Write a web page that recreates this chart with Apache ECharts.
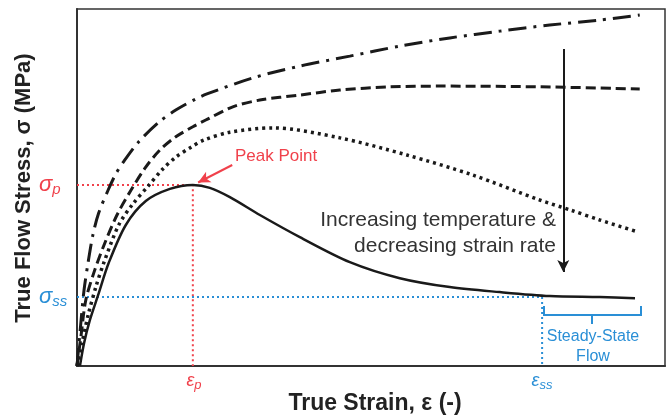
<!DOCTYPE html>
<html>
<head>
<meta charset="utf-8">
<script src="https://cdn.jsdelivr.net/npm/echarts@6/dist/echarts.min.js"></script>
<style>
html, body { margin: 0; padding: 0; background: #fff; }
#main { width: 667px; height: 418px; }
</style>
</head>
<body>
<div id="main"></div>
<script>
// curves, x = strain (0-100), y = stress (0-100), arbitrary units
var solidCurve = [[0.5,0],[1.2,6.4],[2.2,12.9],[3.6,19.9],[5.4,28.9],[8.3,39.5],[11.7,46.2],[15.8,49.6],[19.7,50.7],[22.6,49.9],[26.0,47.3],[31.1,42.3],[37.9,36.1],[46.4,29.1],[54.9,24.6],[63.4,22.1],[71.9,20.7],[80.4,19.6],[88.9,19.3],[94.9,19.0]];
var dottedCurve = [[0,0],[0.85,6.4],[1.9,14.3],[3.2,22.1],[4.6,29.1],[7.1,39.5],[9.5,45.4],[12.1,50.4],[14.6,55.2],[16.8,58.5],[19.4,61.3],[21.6,63.3],[26.0,65.5],[33.3,66.7],[44.7,63.9],[56.1,59.1],[67.3,53.5],[78.7,46.5],[83.9,43.7],[88.9,40.9],[94.9,37.8]];
var dashedCurve = [[0,0],[0.7,8.7],[1.5,18.5],[2.9,26.3],[4.6,33.9],[6.8,42.3],[9.2,49.3],[11.6,55.5],[14.1,60.5],[16.8,64.2],[19.7,67.0],[21.9,68.9],[26.5,72.6],[31.1,74.5],[37.9,75.9],[44.7,77.3],[53.2,78.2],[61.7,78.4],[78.7,78.2],[95.7,77.6]];
var dashDotCurve = [[0,0],[0.7,12.9],[1.2,21.3],[1.9,29.1],[2.7,36.7],[3.7,42.9],[5.3,49.3],[6.6,53.8],[8.0,57.4],[10.5,62.8],[14.0,68.4],[16.8,71.7],[20.2,74.8],[22.1,76.2],[29.9,80.7],[37.9,84.0],[46.4,86.8],[54.9,89.6],[63.4,91.9],[71.9,93.8],[80.4,95.5],[88.9,96.9],[95.7,98.3]];

var peakPoint = [19.7, 50.7];
var steadyPoint = [79.1, 19.3];

var red = '#f0414b';
var blue = '#2a8fd6';

var chart = echarts.init(document.getElementById('main'));

function curve(data, dash, width) {
    return {
        type: 'line',
        data: data,
        smooth: 0.3,
        symbol: 'none',
        silent: true,
        lineStyle: { color: '#1a1a1a', width: width, type: dash, cap: 'butt' }
    };
}

var option = {
    animation: false,
    grid: { left: 77, top: 9, right: 2, bottom: 52, show: true, borderColor: '#333', borderWidth: 1.5 },
    xAxis: {
        type: 'value', min: 0, max: 100,
        axisLine: { show: true, lineStyle: { color: '#333', width: 2 } },
        axisTick: { show: false }, axisLabel: { show: false }, splitLine: { show: false }
    },
    yAxis: {
        type: 'value', min: 0, max: 100,
        axisLine: { show: true, lineStyle: { color: '#333', width: 2 } },
        axisTick: { show: false }, axisLabel: { show: false }, splitLine: { show: false }
    },
    series: [
        {
            type: 'line', symbol: 'none', silent: true,
            data: [[0, peakPoint[1]], peakPoint, [peakPoint[0], 0]],
            lineStyle: { color: red, width: 2, type: [2, 3] }
        },
        {
            type: 'line', symbol: 'none', silent: true,
            data: [[0, steadyPoint[1]], steadyPoint, [steadyPoint[0], 0]],
            lineStyle: { color: blue, width: 2, type: [2, 3] }
        },
        curve(dashDotCurve, [18, 7, 3, 7], 3),
        curve(dashedCurve, [10, 5], 3),
        curve(dottedCurve, [3, 4], 3.5),
        curve(solidCurve, 'solid', 2.5),
        {
            type: 'line', data: [], symbol: 'none', silent: true,
            markLine: {
                silent: true, symbol: ['none', 'arrow'], symbolSize: [9, 12],
                label: { show: false },
                data: [
                    [{ coord: [82.7, 88.8], lineStyle: { color: '#1a1a1a', width: 2, type: 'solid' } }, { coord: [82.7, 26.3] }],
                    [{ coord: [26.4, 56.3], lineStyle: { color: red, width: 2, type: 'solid' }, symbolSize: [8, 10] }, { coord: [20.6, 51.4] }]
                ]
            }
        }
    ],
    graphic: [
        { type: 'text', x: 24, y: 188, rotation: Math.PI / 2,
          style: { text: 'True Flow Stress, σ (MPa)', font: 'bold 22px "Liberation Sans", Arial', fill: '#222', align: 'center', verticalAlign: 'middle' } },
        { type: 'text', x: 375, y: 404,
          style: { text: 'True Strain, ε (-)', font: 'bold 23px "Liberation Sans", Arial', fill: '#222', align: 'center', verticalAlign: 'middle' } },
        { type: 'text', x: 556, y: 233,
          style: { text: 'Increasing temperature &\ndecreasing strain rate', font: '21px "Liberation Sans", Arial', fill: '#333', align: 'right', verticalAlign: 'middle', lineHeight: 26 } },
        { type: 'text', x: 235, y: 156,
          style: { text: 'Peak Point', font: '17px "Liberation Sans", Arial', fill: red, align: 'left', verticalAlign: 'middle' } },
        { type: 'text', x: 593, y: 347,
          style: { text: 'Steady-State\nFlow', font: '16px "Liberation Sans", Arial', fill: blue, align: 'center', verticalAlign: 'middle', lineHeight: 20 } },
        { type: 'polyline', shape: { points: [[544, 306], [544, 315], [641, 315], [641, 306]] },
          style: { stroke: blue, lineWidth: 2, fill: null } },
        { type: 'line', shape: { x1: 592, y1: 315, x2: 592, y2: 324 }, style: { stroke: blue, lineWidth: 2 } },
        { type: 'text', x: 39, y: 185,
          style: { text: '{a|σ}{b|p}', align: 'left', verticalAlign: 'middle',
                   rich: { a: { font: 'italic 22px "Liberation Sans", Arial', fill: red },
                           b: { font: 'italic 15px "Liberation Sans", Arial', fill: red, padding: [10, 0, 0, 0] } } } },
        { type: 'text', x: 39, y: 297,
          style: { text: '{a|σ}{b|ss}', align: 'left', verticalAlign: 'middle',
                   rich: { a: { font: 'italic 22px "Liberation Sans", Arial', fill: blue },
                           b: { font: 'italic 15px "Liberation Sans", Arial', fill: blue, padding: [10, 0, 0, 0] } } } },
        { type: 'text', x: 194, y: 381,
          style: { text: '{a|ε}{b|p}', align: 'center', verticalAlign: 'middle',
                   rich: { a: { font: 'italic 18px "Liberation Sans", Arial', fill: red },
                           b: { font: 'italic 13px "Liberation Sans", Arial', fill: red, padding: [9, 0, 0, 0] } } } },
        { type: 'text', x: 542, y: 381,
          style: { text: '{a|ε}{b|ss}', align: 'center', verticalAlign: 'middle',
                   rich: { a: { font: 'italic 18px "Liberation Sans", Arial', fill: blue },
                           b: { font: 'italic 13px "Liberation Sans", Arial', fill: blue, padding: [9, 0, 0, 0] } } } }
    ]
};
chart.setOption(option);
</script>
</body>
</html>
